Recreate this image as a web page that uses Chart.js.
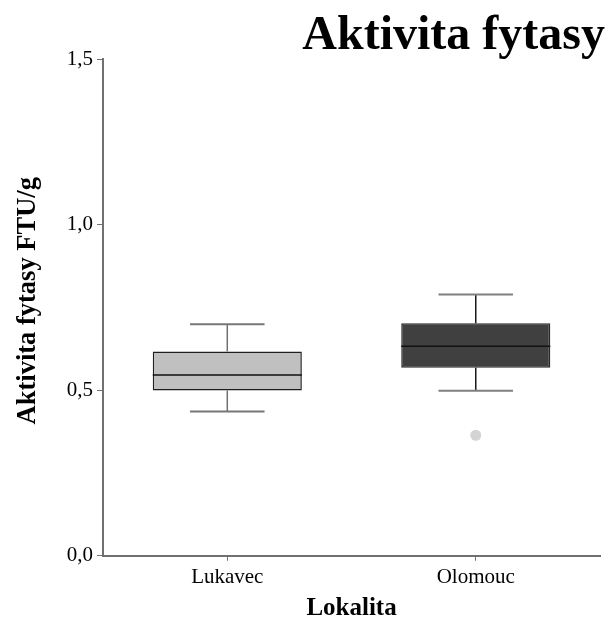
<!DOCTYPE html>
<html>
<head>
<meta charset="utf-8">
<script src="https://cdn.jsdelivr.net/npm/chart.js@4/dist/chart.umd.min.js"></script>
<style>
  html, body { margin: 0; padding: 0; background: #ffffff; }
  #wrap { width: 614px; height: 628px; }
</style>
</head>
<body>
<div id="wrap"><canvas id="c" width="614" height="628"></canvas></div>
<script>
// Box-plot statistics per site (phytase activity, FTU/g)
const categories   = ['Lukavec', 'Olomouc'];
const whiskerLow   = [0.436, 0.498];
const quartile1    = [0.499, 0.568];
const median       = [0.546, 0.633];
const quartile3    = [0.617, 0.702];
const whiskerHigh  = [0.699, 0.789];
const outliers     = [null, 0.364];
const yTicks       = [0, 0.5, 1.0, 1.5];

const chartTitle = 'Aktivita fytasy';

const boxFill   = ['#c0c0c0', '#404040'];
const boxBorder = ['#1e1e1e', '#2a2a2a'];
const stemColor = ['#707070', '#1a1a1a'];
const capColor  = ['#777777', '#808080'];

const serif = "'Liberation Serif', 'Times New Roman', serif";

// Whiskers, caps and median lines drawn over the floating bars
const boxPlotLines = {
  id: 'boxPlotLines',
  afterDatasetsDraw(chart) {
    const meta = chart.getDatasetMeta(0);
    const y = chart.scales.y;
    const ctx = chart.ctx;
    ctx.save();
    meta.data.forEach((bar, i) => {
      const x = bar.x;
      const w = bar.width;
      const yHi = y.getPixelForValue(whiskerHigh[i]);
      const yQ3 = y.getPixelForValue(quartile3[i]);
      const yQ1 = y.getPixelForValue(quartile1[i]);
      const yLo = y.getPixelForValue(whiskerLow[i]);
      const yMed = y.getPixelForValue(median[i]);
      const cap = w / 4;
      // stems
      ctx.strokeStyle = stemColor[i];
      ctx.lineWidth = 1.5;
      ctx.beginPath();
      ctx.moveTo(x, yHi); ctx.lineTo(x, yQ3);
      ctx.moveTo(x, yQ1); ctx.lineTo(x, yLo);
      ctx.stroke();
      // caps
      ctx.strokeStyle = capColor[i];
      ctx.lineWidth = 2;
      ctx.beginPath();
      ctx.moveTo(x - cap, yHi); ctx.lineTo(x + cap, yHi);
      ctx.moveTo(x - cap, yLo); ctx.lineTo(x + cap, yLo);
      ctx.stroke();
      // median
      ctx.strokeStyle = '#111111';
      ctx.lineWidth = 1.5;
      ctx.beginPath();
      ctx.moveTo(x - w / 2, yMed); ctx.lineTo(x + w / 2, yMed);
      ctx.stroke();
    });
    ctx.restore();
  }
};

// Heading set flush to the right edge of the canvas, above the plot
const headingText = {
  id: 'headingText',
  afterDraw(chart) {
    const ctx = chart.ctx;
    ctx.save();
    ctx.font = 'bold 48px ' + serif;
    ctx.fillStyle = '#000000';
    ctx.textAlign = 'right';
    ctx.textBaseline = 'alphabetic';
    ctx.fillText(chartTitle, chart.width - 9, 49);
    ctx.restore();
  }
};

new Chart(document.getElementById('c'), {
  type: 'bar',
  data: {
    labels: categories,
    datasets: [
      {
        type: 'bar',
        data: categories.map((_, i) => [quartile1[i], quartile3[i]]),
        backgroundColor: boxFill,
        borderColor: boxBorder,
        borderWidth: 1.5,
        borderSkipped: false,
        barPercentage: 0.6,
        categoryPercentage: 1.0,
        order: 2
      },
      {
        type: 'line',
        data: outliers,
        showLine: false,
        pointRadius: 5.5,
        pointBackgroundColor: '#d4d4d4',
        pointBorderWidth: 0,
        pointBorderColor: 'rgba(0,0,0,0)',
        order: 1
      }
    ]
  },
  options: {
    responsive: false,
    animation: false,
    layout: { padding: { left: 4, right: 14, top: 59, bottom: 4 } },
    plugins: {
      legend: { display: false },
      tooltip: { enabled: false },
      title: { display: false }
    },
    scales: {
      x: {
        type: 'category',
        offset: true,
        grid: {
          display: true,
          offset: false,
          drawOnChartArea: false,
          drawTicks: true,
          tickLength: 5,
          color: '#707070',
          lineWidth: 1
        },
        border: { display: true, color: '#707070', width: 2 },
        ticks: {
          color: '#000000',
          font: { family: serif, size: 21 },
          padding: 4
        },
        title: {
          display: true,
          text: 'Lokalita',
          color: '#000000',
          font: { family: serif, size: 25, weight: 'bold' },
          padding: { top: 0, bottom: 0 }
        }
      },
      y: {
        min: 0,
        max: 1.5,
        afterBuildTicks(scale) {
          scale.ticks = yTicks.map(v => ({ value: v }));
        },
        grid: {
          display: true,
          drawOnChartArea: false,
          drawTicks: true,
          tickLength: 6,
          color: '#707070',
          lineWidth: 1
        },
        border: { display: true, color: '#707070', width: 2 },
        ticks: {
          color: '#000000',
          font: { family: serif, size: 21 },
          padding: 4,
          callback: v => Number(v).toFixed(1).replace('.', ',')
        },
        title: {
          display: true,
          text: '\u00a0\u00a0Aktivita fytasy FTU/g',
          color: '#000000',
          font: { family: serif, size: 26.5, weight: 'bold' },
          padding: { top: 8, bottom: 19 }
        }
      }
    }
  },
  plugins: [boxPlotLines, headingText]
});
</script>
</body>
</html>
